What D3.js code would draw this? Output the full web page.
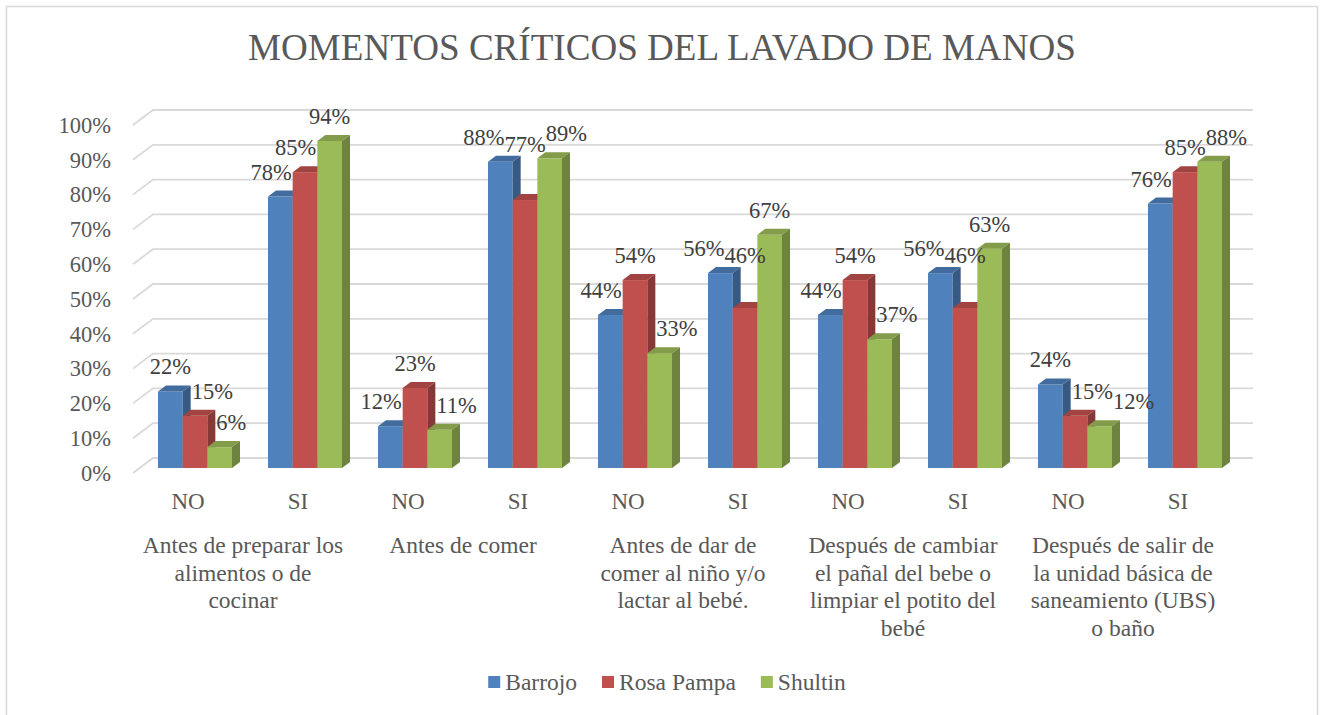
<!doctype html>
<html lang="es">
  <head>
    <meta charset="UTF-8" />
    <title>Momentos críticos del lavado de manos</title>
    <style>
      body {
        margin: 0;
        background: #fff;
        overflow: hidden;
      }
      svg {
        display: block;
      }
      svg text {
        font-family: "Liberation Serif", "Times New Roman", serif;
      }
    </style>
  </head>
  <body>
    <script src="https://d3js.org/d3.v7.min.js"></script>
    <script>
      // --- data ---
      const answers = ["NO", "SI", "NO", "SI", "NO", "SI", "NO", "SI", "NO", "SI"];
      const groups = [
        "Antes de preparar los|alimentos o de|cocinar",
        "Antes de comer",
        "Antes de dar de|comer al niño y/o|lactar al bebé.",
        "Después de cambiar|el pañal del bebe o|limpiar el potito del|bebé",
        "Después de salir de|la unidad básica de|saneamiento (UBS)|o baño",
      ];
      const seriesNames = ["Barrojo", "Rosa Pampa", "Shultin"];
      const barrojo = [0.22, 0.78, 0.12, 0.88, 0.44, 0.56, 0.44, 0.56, 0.24, 0.76];
      const rosaPampa = [0.15, 0.85, 0.23, 0.77, 0.54, 0.46, 0.54, 0.46, 0.15, 0.85];
      const shultin = [0.06, 0.94, 0.11, 0.89, 0.33, 0.67, 0.37, 0.63, 0.12, 0.88];
      const yTicks = [0, 0.1, 0.2, 0.3, 0.4, 0.5, 0.6, 0.7, 0.8, 0.9, 1];
      const colors = ["#4F81BD", "#C0504D", "#9BBB59"];

      const series = [barrojo, rosaPampa, shultin];

      const W = 1324,
        H = 715;
      const textColor = "#595959";

      // front plane of the 3D box, depth vectors
      const left = 133,
        right = 1233;
      const wall = { dx: 20, dy: -15 }; // back wall offset
      const barOff = { dx: 7, dy: -5 }; // bars sit a third of the way back
      const barDepth = { dx: 8, dy: -6 };

      const svg = d3.select("body").append("svg").attr("width", W).attr("height", H);

      svg
        .append("rect")
        .attr("x", 6.5)
        .attr("y", 6.5)
        .attr("width", 1311)
        .attr("height", 730)
        .attr("fill", "#fff")
        .attr("stroke", "#d9d9d9")
        .attr("stroke-width", 1.5);

      svg
        .append("text")
        .attr("x", W / 2)
        .attr("y", 60)
        .attr("text-anchor", "middle")
        .attr("font-size", 37.1)
        .attr("fill", textColor)
        .text("MOMENTOS CRÍTICOS DEL LAVADO DE MANOS");

      const idx = answers.map((d, i) => i);
      const x = d3
        .scaleBand()
        .domain(idx)
        .range([left, right])
        .paddingInner(0.327)
        .paddingOuter(0.1635);
      const xs = d3.scaleBand().domain([0, 1, 2]).range([0, x.bandwidth()]);
      const y = d3.scaleLinear().domain([0, 1]).range([473, 125]);

      // gridlines (front edge -> back wall -> across)
      svg
        .append("g")
        .selectAll("path")
        .data(yTicks)
        .join("path")
        .attr("d", (t) => {
          const yy = y(t);
          return `M${left},${yy}L${left + wall.dx},${yy + wall.dy}L${right + wall.dx},${yy + wall.dy}`;
        })
        .attr("fill", "none")
        .attr("stroke", "#d9d9d9")
        .attr("stroke-width", 1.8);

      // y axis labels
      svg
        .append("g")
        .selectAll("text")
        .data(yTicks)
        .join("text")
        .attr("x", 111)
        .attr("y", (t) => y(t))
        .attr("dy", "0.35em")
        .attr("text-anchor", "end")
        .attr("font-size", 22.5)
        .attr("fill", textColor)
        .text(d3.format(".0%"));

      // bars
      const bars = [];
      idx.forEach((i) => {
        series.forEach((vals, s) => {
          const x0 = x(i) + xs(s) + barOff.dx;
          const w = xs.bandwidth();
          const yTop = y(vals[i]) + barOff.dy;
          const yBot = y(0) + barOff.dy;
          bars.push({ i, s, v: vals[i], x0, w, yTop, yBot });
        });
      });

      const bg = svg.append("g");
      bars.forEach((b) => {
        const c = d3.color(colors[b.s]);
        const g = bg.append("g");
        // front face
        g.append("rect")
          .attr("x", b.x0)
          .attr("y", b.yTop)
          .attr("width", b.w)
          .attr("height", b.yBot - b.yTop)
          .attr("fill", c.formatHex());
        // top face
        g.append("path")
          .attr(
            "d",
            `M${b.x0},${b.yTop}L${b.x0 + barDepth.dx},${b.yTop + barDepth.dy}L${b.x0 + b.w + barDepth.dx},${b.yTop + barDepth.dy}L${b.x0 + b.w},${b.yTop}Z`
          )
          .attr("fill", c.darker(0.5).formatHex());
        // side face
        g.append("path")
          .attr(
            "d",
            `M${b.x0 + b.w},${b.yTop}L${b.x0 + b.w + barDepth.dx},${b.yTop + barDepth.dy}L${b.x0 + b.w + barDepth.dx},${b.yBot + barDepth.dy}L${b.x0 + b.w},${b.yBot}Z`
          )
          .attr("fill", c.darker(1).formatHex());
      });

      // data labels with simple collision handling like Excel
      const lg = svg.append("g");
      const capH = 16;
      const fmt = d3.format(".0%");
      idx.forEach((i) => {
        const cl = bars.filter((b) => b.i === i);
        const labs = cl.map((b) => {
          const t = lg
            .append("text")
            .attr("text-anchor", "middle")
            .attr("font-size", 22.5)
            .attr("fill", "#404040")
            .text(fmt(b.v));
          const w = t.node().getComputedTextLength();
          return { t, w, cx: b.x0 + b.w / 2, base: b.yTop - 17, raised: false };
        });
        const hitsBar = (l, b) => {
          const bx0 = b.x0,
            bx1 = b.x0 + b.w + barDepth.dx,
            by0 = b.yTop + barDepth.dy;
          return l.cx + l.w / 2 > bx0 && l.cx - l.w / 2 < bx1 && l.base > by0;
        };
        labs.forEach((l, s) => {
          const lb = s > 0 ? cl[s - 1] : null;
          const rb = s < 2 ? cl[s + 1] : null;
          const hl = lb && hitsBar(l, lb);
          const hr = rb && hitsBar(l, rb);
          if (hl && hr) {
            l.base = lb.yTop + barDepth.dy - 4;
            l.raised = true;
          } else if (hl) {
            l.cx = lb.x0 + lb.w + barDepth.dx + 1 + l.w / 2;
          } else if (hr) {
            l.cx = rb.x0 - 1 - l.w / 2;
          }
          if (s > 0) {
            const p = labs[s - 1];
            const ox = p.cx + p.w / 2 - (l.cx - l.w / 2);
            const oy = Math.min(p.base, l.base) - (Math.max(p.base, l.base) - capH);
            if (ox > 0 && oy > 0) {
              if (l.raised) p.cx -= ox;
              else l.cx += ox;
            }
          }
        });
        labs.forEach((l) => l.t.attr("x", l.cx).attr("y", l.base));
      });

      // answer labels NO / SI
      svg
        .append("g")
        .selectAll("text")
        .data(idx)
        .join("text")
        .attr("x", (i) => x(i) + x.bandwidth() / 2)
        .attr("y", 509)
        .attr("text-anchor", "middle")
        .attr("font-size", 23)
        .attr("fill", textColor)
        .text((i) => answers[i]);

      // group labels
      const gl = svg
        .append("g")
        .selectAll("text")
        .data(groups)
        .join("text")
        .attr("x", (d, k) => (x(2 * k) + x(2 * k + 1) + x.bandwidth()) / 2)
        .attr("y", 553)
        .attr("text-anchor", "middle")
        .attr("font-size", 23.5)
        .attr("fill", textColor);
      gl.each(function (d) {
        const el = d3.select(this);
        const cx = el.attr("x");
        d.split("|").forEach((line, j) => {
          el.append("tspan").attr("x", cx).attr("dy", j === 0 ? 0 : 27.5).text(line);
        });
      });

      // legend
      const leg = svg.append("g");
      const items = seriesNames.map((name, s) => {
        const g = leg.append("g");
        g.append("rect").attr("width", 12).attr("height", 12).attr("y", -12).attr("fill", colors[s]);
        const t = g
          .append("text")
          .attr("x", 17)
          .attr("y", 2)
          .attr("font-size", 23.5)
          .attr("fill", textColor)
          .text(name);
        return { g, w: 17 + t.node().getComputedTextLength() };
      });
      const gap = 25;
      const total = d3.sum(items, (d) => d.w) + gap * (items.length - 1);
      let cx = W / 2 - total / 2 + 5;
      items.forEach((it) => {
        it.g.attr("transform", `translate(${cx},688)`);
        cx += it.w + gap;
      });
    </script>
  </body>
</html>
